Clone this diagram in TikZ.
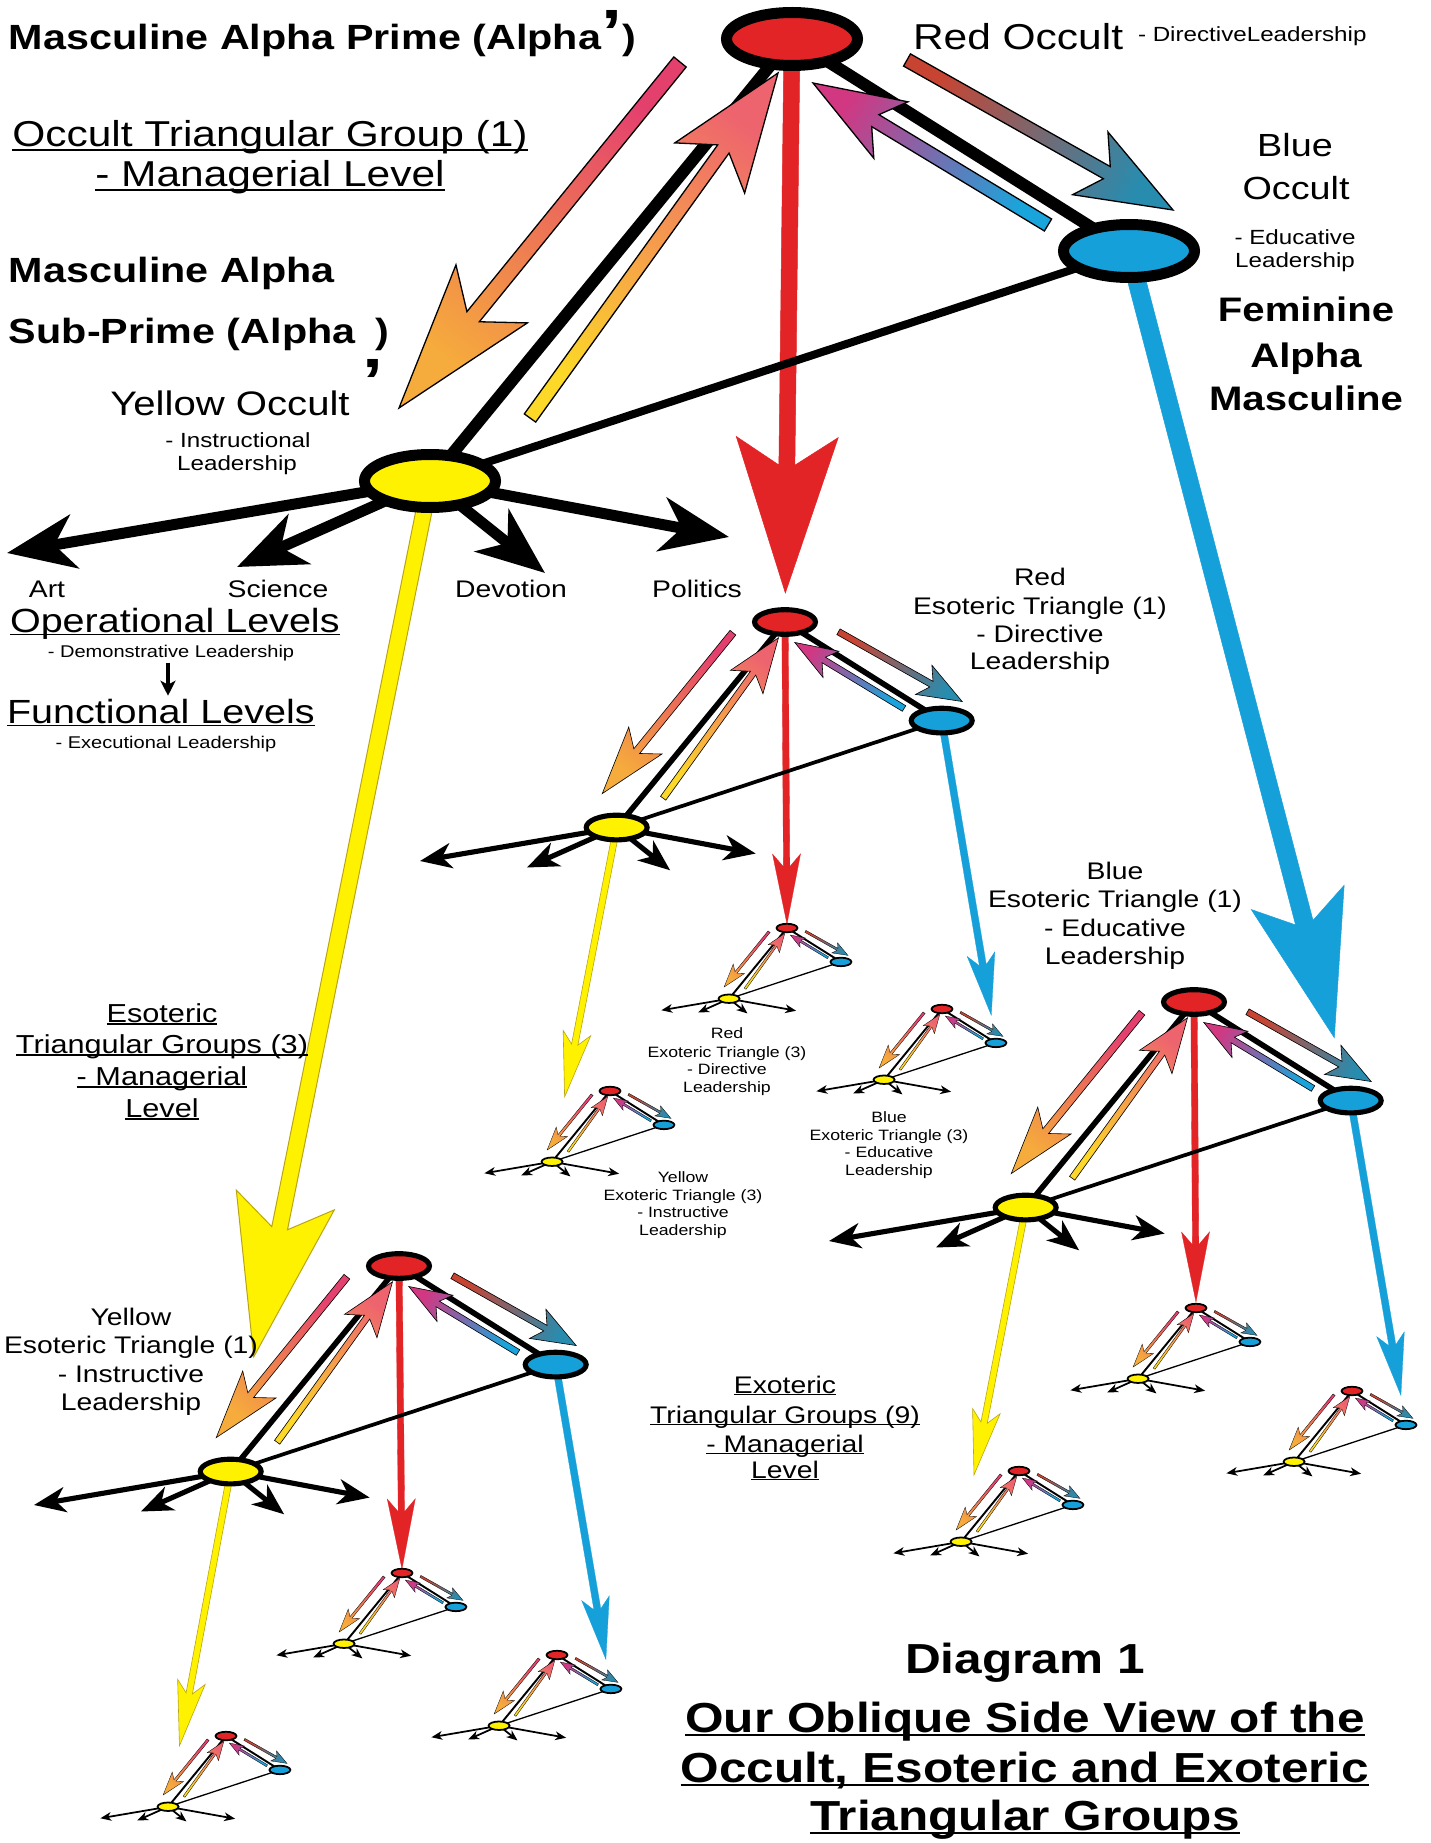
\documentclass[tikz,border=0pt]{standalone}
\usepackage{fontspec}
\setmainfont{Liberation Sans}[FakeStretch=1.18]
\usetikzlibrary{calc,arrows.meta,shapes.geometric}
\pgfdeclarelayer{bgfill}\pgfdeclarelayer{colarr}\pgfdeclarelayer{edges}\pgfdeclarelayer{grad}
\pgfsetlayers{bgfill,colarr,edges,grad,main}
\definecolor{redc}{RGB}{226,36,38}
\definecolor{bluec}{RGB}{22,160,218}
\definecolor{yelc}{RGB}{255,242,0}
\definecolor{yelline}{RGB}{185,165,20}
\definecolor{gApink}{RGB}{228,64,110}\definecolor{gAorange}{RGB}{246,172,60}
\definecolor{gByellow}{RGB}{252,216,40}\definecolor{gBsalmon}{RGB}{238,100,110}
\definecolor{gCred}{RGB}{200,68,50}\definecolor{gCteal}{RGB}{40,140,175}
\definecolor{gDblue}{RGB}{25,165,220}\definecolor{gDmag}{RGB}{210,55,130}
\newcommand\fsz[2]{\fontsize{#1}{#2}\selectfont}
\newcommand\myul[1]{\setbox0=\hbox{#1}\rlap{\rule[-0.1em]{\wd0}{0.05em}}\box0}
\tikzset{ell/.style={ellipse,draw=black,inner sep=0pt,outer sep=0pt},
  txt/.style={inner sep=0pt,outer sep=0pt,anchor=base}}
% gradient block arrow: tail, tip, half shaft, half head, head length, start colour, end colour, shading angle
\newcommand\gradarrow[8]{%
  \pgfmathsetmacro\gaJl{0.8*#5}%
  \coordinate (gaJ) at ($(#2)!\gaJl pt!(#1)$);%
  \coordinate (gaH) at ($(#2)!#5 pt!(#1)$);%
  \shadedraw[draw=black,line width=\gaLw pt,bottom color=#6,top color=#7,shading angle=#8]
    ($(#1)!#3 pt!90:(#2)$) -- ($(gaJ)!#3 pt!90:(#2)$) -- ($(gaH)!#4 pt!90:(#2)$) -- (#2)
    -- ($(gaH)!#4 pt!-90:(#2)$) -- ($(gaJ)!#3 pt!-90:(#2)$) -- ($(#1)!#3 pt!-90:(#2)$) -- cycle;}
% solid block arrow from node to node: from, to, distance of tip from target centre, half shaft, half head, head length, fill, draw, line width
\newcommand\solidarrow[9]{%
  \coordinate (saT) at ($(#2.center)!#3 pt!(#1.center)$);%
  \pgfmathsetmacro\saJl{0.82*#6}%
  \coordinate (saJ) at ($(saT)!\saJl pt!(#1.center)$);%
  \coordinate (saH) at ($(saT)!#6 pt!(#1.center)$);%
  \filldraw[fill=#7,draw=#8,line width=#9]
    ($(#1.center)!#4 pt!90:(saT)$) -- ($(saJ)!#4 pt!90:(saT)$) -- ($(saH)!#5 pt!90:(saT)$) -- (saT)
    -- ($(saH)!#5 pt!-90:(saT)$) -- ($(saJ)!#4 pt!-90:(saT)$) -- ($(#1.center)!#4 pt!-90:(saT)$) -- cycle;}
% triangle motif: prefix, position of red node, scale, end of 4th black arrow (template units)
\newcommand\triad[4]{%
  \pgfmathsetmacro\tS{#3}%
  \pgfmathsetmacro\tEw{131*\tS}\pgfmathsetmacro\tEh{53*\tS}%
  \pgfmathsetmacro\tEb{max(11*\tS,1.4)}%
  \pgfmathsetmacro\tLa{max(12*\tS,1.8)}\pgfmathsetmacro\tLb{max(8*\tS,1.3)}%
  \pgfmathsetmacro\tLc{max(11*\tS,1.2)}%
  \pgfmathsetmacro\tAl{68*\tS}\pgfmathsetmacro\tAw{54*\tS}\pgfmathsetmacro\tAi{20*\tS}%
  \pgfmathsetmacro\gaLw{max(1.3*\tS,0.3)}%
  \begin{scope}[shift={(#2)},scale=\tS]
    \node[ell,fill=redc,minimum width=\tEw pt,minimum height=\tEh pt,line width=\tEb pt] (#1r) at (0,0) {};
    \node[ell,fill=bluec,minimum width=\tEw pt,minimum height=\tEh pt,line width=\tEb pt] (#1b) at (337,212) {};
    \node[ell,fill=yelc,minimum width=\tEw pt,minimum height=\tEh pt,line width=\tEb pt] (#1y) at (-362,442) {};
    \coordinate (#1a1) at (-785,514);
    \coordinate (#1a2) at (-555,528);
    \coordinate (#1a3) at (-247,534);
    \coordinate (#1a4) at (#4);
    \coordinate (#1g1s) at (-112,23);  \coordinate (#1g1e) at (-393,369);
    \coordinate (#1g2s) at (-262,379); \coordinate (#1g2e) at (-14,34);
    \coordinate (#1g3s) at (115,21);   \coordinate (#1g3e) at (381,171);
    \coordinate (#1g4s) at (256,186);  \coordinate (#1g4e) at (21,44);
  \end{scope}
  \begin{pgfonlayer}{edges}
    \draw[line width=\tLa pt] (#1r.center) -- (#1y.center);
    \draw[line width=\tLa pt] (#1r.center) -- (#1b.center);
    \draw[line width=\tLb pt] (#1y.center) -- (#1b.center);
    \foreach \k in {1,2,3,4}{\draw[line width=\tLc pt,-{Stealth[length=\tAl pt,width=\tAw pt,inset=\tAi pt]}] (#1y) -- (#1a\k);}
  \end{pgfonlayer}
  \begin{pgfonlayer}{grad}
    \pgfmathsetmacro\gsA{8*\tS}\pgfmathsetmacro\gsB{7*\tS}%
    \gradarrow{#1g1s}{#1g1e}{\gsA}{46*\tS}{147*\tS}{gApink}{gAorange}{140.9}
    \gradarrow{#1g2s}{#1g2e}{\gsB}{43*\tS}{117*\tS}{gByellow}{gBsalmon}{-35.7}
    \gradarrow{#1g3s}{#1g3e}{\gsB}{36*\tS}{95*\tS}{gCred}{gCteal}{-119.4}
    \gradarrow{#1g4s}{#1g4e}{\gsB}{33*\tS}{91*\tS}{gDblue}{gDmag}{58.9}
  \end{pgfonlayer}}
\begin{document}
\begin{tikzpicture}[x=1pt,y=-1pt]
\begin{pgfonlayer}{bgfill}
  \fill[white] (0,0) rectangle (1430,1843);
\end{pgfonlayer}
\useasboundingbox (0,0) rectangle (1430,1843);

% ---------- triangles ----------
\triad{O}{792,39}{1}{-63,498}
\triad{ER}{785,622}{0.465}{-63,498}
\triad{EB}{1194,1002}{0.465}{-63,498}
\triad{EY}{399,1266}{0.465}{-63,498}
\triad{XRR}{787,928}{0.16}{57,517}
\triad{XRB}{942,1009}{0.16}{57,517}
\triad{XRY}{610,1091}{0.16}{57,517}
\triad{XBR}{1196,1308}{0.16}{57,517}
\triad{XBB}{1352,1391}{0.16}{57,517}
\triad{XBY}{1019,1471}{0.16}{57,517}
\triad{XYR}{402,1573}{0.16}{57,517}
\triad{XYB}{557,1655}{0.16}{57,517}
\triad{XYY}{226,1736}{0.16}{57,517}

% ---------- coloured descending arrows ----------
\begin{pgfonlayer}{colarr}
  \solidarrow{Or}{ERr}{29}{8}{51}{156}{redc}{redc}{0.5pt}
  \solidarrow{Ob}{EBb}{65}{9}{48}{145}{bluec}{bluec}{0.5pt}
  \solidarrow{Oy}{EYy}{117}{8}{50}{160}{yelc}{yelline}{1pt}
  \solidarrow{ERr}{XRRr}{4}{3.2}{14}{70}{redc}{redc}{0.3pt}
  \solidarrow{ERb}{XRBb}{28}{3.5}{14}{62}{bluec}{bluec}{0.3pt}
  \solidarrow{ERy}{XRYy}{66}{3.2}{14}{65}{yelc}{yelline}{0.6pt}
  \solidarrow{EBr}{XBRr}{6}{3.2}{14}{70}{redc}{redc}{0.3pt}
  \solidarrow{EBb}{XBBb}{30}{3.5}{14}{62}{bluec}{bluec}{0.3pt}
  \solidarrow{EBy}{XBYy}{68}{3.2}{14}{65}{yelc}{yelline}{0.6pt}
  \solidarrow{EYr}{XYRr}{4}{3.2}{14}{70}{redc}{redc}{0.3pt}
  \solidarrow{EYb}{XYBb}{30}{3.5}{14}{62}{bluec}{bluec}{0.3pt}
  \solidarrow{EYy}{XYYy}{62}{3.2}{14}{65}{yelc}{yelline}{0.6pt}
\end{pgfonlayer}

% ---------- texts ----------
\node[txt,anchor=base west,font=\fsz{35}{42}\bfseries] (tTitle) at (9,50) {Masculine Alpha Prime (Alpha\raisebox{-5pt}{\fsz{64}{64}’})};
\node[txt,font=\fsz{36}{44}] (tOTG1) at (270,147) {\myul{Occult Triangular Group (1)}};
\node[txt,font=\fsz{36}{44}] (tOTG2) at (270,187) {\myul{- Managerial Level}};
\node[txt,anchor=base west,font=\fsz{35}{42}\bfseries] (tMA) at (9,283) {Masculine Alpha};
\node[txt,anchor=base west,font=\fsz{35}{42}\bfseries] (tSP) at (9,343) {Sub-Prime (Alpha\hspace{20pt})};
\node[txt,font=\fsz{64}{64}\bfseries] (tSPp) at (373,403) {’};
\node[txt,font=\fsz{34}{40}] (tYO1) at (230,415) {Yellow Occult};
\node[txt,font=\fsz{20.5}{24}] (tYO2) at (238,447) {- Instructional};
\node[txt,font=\fsz{20.5}{24}] (tYO3) at (237,470) {Leadership};
\node[txt,anchor=base west,font=\fsz{36}{44}] (tRO1) at (913,50) {Red Occult};
\node[txt,anchor=base west,font=\fsz{20.5}{24}] (tRO2) at (1138,42) {- DirectiveLeadership};
\node[txt,font=\fsz{32}{38}] (tBO1) at (1295,157) {Blue};
\node[txt,font=\fsz{32}{38}] (tBO2) at (1296,200) {Occult};
\node[txt,font=\fsz{20.5}{24}] (tBO3) at (1295,245) {- Educative};
\node[txt,font=\fsz{20.5}{24}] (tBO4) at (1295,268) {Leadership};
\node[txt,font=\fsz{34}{40}\bfseries] (tFA1) at (1306,322) {Feminine};
\node[txt,font=\fsz{34}{40}\bfseries] (tFA2) at (1306,367) {Alpha};
\node[txt,font=\fsz{34}{40}\bfseries] (tFA3) at (1306,410) {Masculine};
\node[txt,font=\fsz{24}{28}] (tArt) at (47,597) {Art};
\node[txt,font=\fsz{24}{28}] (tSci) at (278,597) {Science};
\node[txt,font=\fsz{24}{28}] (tDev) at (511,597) {Devotion};
\node[txt,font=\fsz{24}{28}] (tPol) at (697,597) {Politics};
\node[txt,anchor=base west,font=\fsz{33.5}{40}] (tOL1) at (10,632) {\myul{Operational Levels}};
\node[txt,font=\fsz{17}{20}] (tOL2) at (171,657) {- Demonstrative Leadership};
\node[txt,anchor=base west,font=\fsz{33.5}{40}] (tFL1) at (7,723) {\myul{Functional Levels}};
\node[txt,font=\fsz{17}{20}] (tFL2) at (166,748) {- Executional Leadership};
\coordinate (tArrX) at (168,0);
\draw[line width=3.5pt,-{Stealth[length=15pt,width=15pt,inset=4pt]},shorten <=2pt,shorten >=3pt] (tOL2.south -| tArrX) -- (tFL1.north -| tArrX);

% esoteric triangle labels
\node[txt,font=\fsz{24}{28}] (lER1) at (1040,585) {Red};
\node[txt,font=\fsz{24}{28}] (lER2) at (1040,614) {Esoteric Triangle (1)};
\node[txt,font=\fsz{24}{28}] (lER3) at (1040,642) {- Directive};
\node[txt,font=\fsz{24}{28}] (lER4) at (1040,669) {Leadership};
\node[txt,font=\fsz{24}{28}] (lEB1) at (1115,879) {Blue};
\node[txt,font=\fsz{24}{28}] (lEB2) at (1115,907) {Esoteric Triangle (1)};
\node[txt,font=\fsz{24}{28}] (lEB3) at (1115,936) {- Educative};
\node[txt,font=\fsz{24}{28}] (lEB4) at (1115,964) {Leadership};
\node[txt,font=\fsz{24}{28}] (lEY1) at (131,1325) {Yellow};
\node[txt,font=\fsz{24}{28}] (lEY2) at (131,1353) {Esoteric Triangle (1)};
\node[txt,font=\fsz{24}{28}] (lEY3) at (131,1382) {- Instructive};
\node[txt,font=\fsz{24}{28}] (lEY4) at (131,1410) {Leadership};

% exoteric triangle labels
\node[txt,font=\fsz{15}{18}] (lXR1) at (727,1038) {Red};
\node[txt,font=\fsz{15}{18}] (lXR2) at (727,1057) {Exoteric Triangle (3)};
\node[txt,font=\fsz{15}{18}] (lXR3) at (727,1074) {- Directive};
\node[txt,font=\fsz{15}{18}] (lXR4) at (727,1092) {Leadership};
\node[txt,font=\fsz{15}{18}] (lXB1) at (889,1122) {Blue};
\node[txt,font=\fsz{15}{18}] (lXB2) at (889,1140) {Exoteric Triangle (3)};
\node[txt,font=\fsz{15}{18}] (lXB3) at (889,1157) {- Educative};
\node[txt,font=\fsz{15}{18}] (lXB4) at (889,1175) {Leadership};
\node[txt,font=\fsz{15}{18}] (lXY1) at (683,1182) {Yellow};
\node[txt,font=\fsz{15}{18}] (lXY2) at (683,1200) {Exoteric Triangle (3)};
\node[txt,font=\fsz{15}{18}] (lXY3) at (683,1217) {- Instructive};
\node[txt,font=\fsz{15}{18}] (lXY4) at (683,1235) {Leadership};

% group labels
\node[txt,font=\fsz{26}{30}] (gEs1) at (162,1022) {\myul{Esoteric}};
\node[txt,font=\fsz{26}{30}] (gEs2) at (162,1053) {\myul{Triangular Groups (3)}};
\node[txt,font=\fsz{26}{30}] (gEs3) at (162,1085) {\myul{- Managerial}};
\node[txt,font=\fsz{26}{30}] (gEs4) at (162,1117) {\myul{Level}};
\node[txt,font=\fsz{24}{28}] (gEx1) at (785,1393) {\myul{Exoteric}};
\node[txt,font=\fsz{24}{28}] (gEx2) at (785,1423) {\myul{Triangular Groups (9)}};
\node[txt,font=\fsz{24}{28}] (gEx3) at (785,1452) {\myul{- Managerial}};
\node[txt,font=\fsz{24}{28}] (gEx4) at (785,1478) {\myul{Level}};

% diagram title
\node[txt,font=\fsz{42}{50}\bfseries] (dT1) at (1025,1673) {Diagram 1};
\node[txt,font=\fsz{42}{50}\bfseries] (dT2) at (1025,1732) {\myul{Our Oblique Side View of the}};
\node[txt,font=\fsz{42}{50}\bfseries] (dT3) at (1025,1782) {\myul{Occult, Esoteric and Exoteric}};
\node[txt,font=\fsz{42}{50}\bfseries] (dT4) at (1025,1830) {\myul{Triangular Groups}};
\end{tikzpicture}
\end{document}
